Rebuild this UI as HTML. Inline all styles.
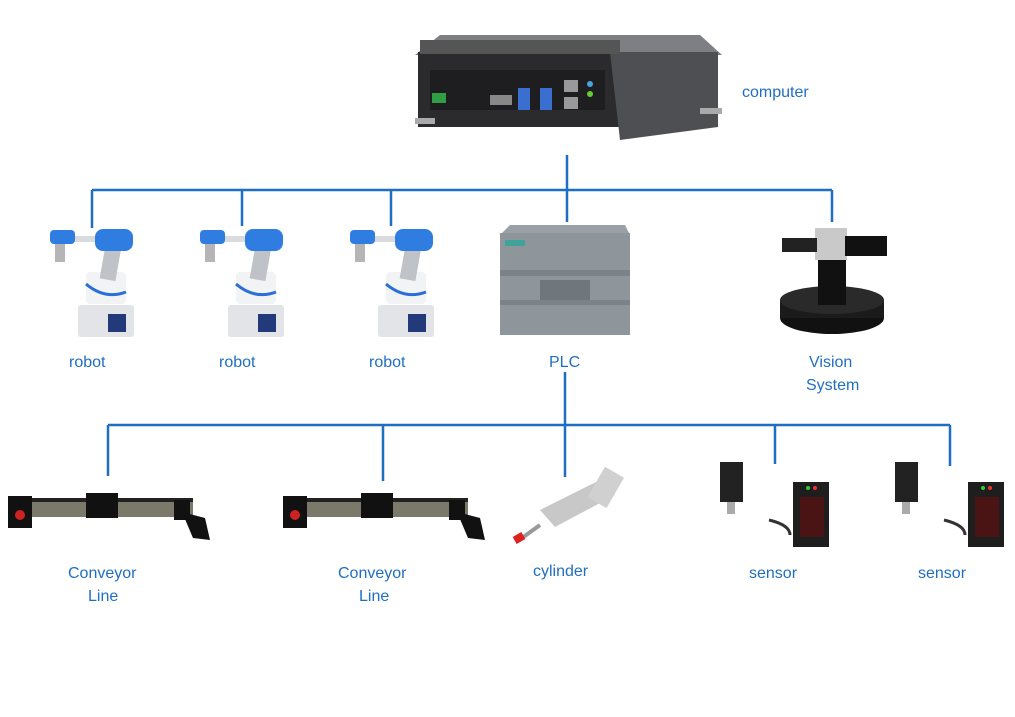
<!DOCTYPE html>
<html><head><meta charset="utf-8"><style>
body{margin:0;background:#fff;width:1015px;height:717px;overflow:hidden;font-family:"Liberation Sans",sans-serif}
svg{display:block}
text{font-family:"Liberation Sans",sans-serif;font-size:16px;fill:#1f6fbf}
</style></head><body>
<svg width="1015" height="717" viewBox="0 0 1015 717">
<g stroke="#1f6fc0" stroke-width="2.5" fill="none">
<path d="M567 155V222M92 190H832M92 190V228M242 190V226M391 190V226M832 190V222"/>
<path d="M565 372V477M108 425H950M108 425V476M383 425V481M775 425V464M950 425V466"/>
</g>
<!-- computer -->
<g>
<polygon points="415,55 440,35 700,35 722,55" fill="#7d7f82"/>
<rect x="418" y="52" width="300" height="75" fill="#2b2b2d"/>
<polygon points="610,52 718,52 718,127 620,140" fill="#4d4f52"/>
<rect x="420" y="40" width="200" height="14" fill="#555" />
<rect x="430" y="70" width="175" height="40" fill="#1e1e20"/>
<rect x="432" y="93" width="14" height="10" fill="#2f9e44"/>
<rect x="518" y="88" width="12" height="22" fill="#3a6fd0"/>
<rect x="540" y="88" width="12" height="22" fill="#3a6fd0"/>
<rect x="490" y="95" width="22" height="10" fill="#888"/>
<rect x="564" y="80" width="14" height="12" fill="#999"/>
<rect x="564" y="97" width="14" height="12" fill="#999"/>
<circle cx="590" cy="84" r="3" fill="#4aa3e0"/><circle cx="590" cy="94" r="3" fill="#6c3"/>
<rect x="415" y="118" width="20" height="6" fill="#aaa"/><rect x="700" y="108" width="22" height="6" fill="#aaa"/>
</g>
<text x="742" y="97">computer</text>
<!-- robots -->
<g id="rb">
<rect x="78" y="305" width="56" height="32" rx="3" fill="#e2e4e7"/>
<rect x="108" y="314" width="18" height="18" fill="#223a7a"/>
<rect x="86" y="272" width="40" height="32" rx="4" fill="#f2f3f5"/>
<path d="M86 284 Q105 300 126 292" stroke="#2a6fd8" stroke-width="3" fill="none"/>
<rect x="103" y="240" width="16" height="40" fill="#bfc2c6" transform="rotate(10 111 260)"/>
<rect x="65" y="236" width="50" height="6" fill="#d9dbde"/>
<rect x="50" y="230" width="25" height="14" rx="4" fill="#2f7de0"/>
<rect x="95" y="229" width="38" height="22" rx="8" fill="#2f7de0"/>
<rect x="55" y="244" width="10" height="18" fill="#b5b5b5"/>
</g>
<use href="#rb" x="150"/><use href="#rb" x="300"/>
<text x="69" y="367">robot</text><text x="219" y="367">robot</text><text x="369" y="367">robot</text>
<!-- PLC -->
<g>
<polygon points="500,235 510,225 625,225 630,235" fill="#9aa1a6"/>
<rect x="500" y="233" width="130" height="102" fill="#8e969c"/>
<rect x="500" y="270" width="130" height="6" fill="#7b8388"/>
<rect x="500" y="300" width="130" height="5" fill="#7b8388"/>
<rect x="540" y="280" width="50" height="20" fill="#6f777c"/>
<rect x="505" y="240" width="20" height="6" fill="#3fa39a"/>
</g>
<text x="549" y="367">PLC</text>
<!-- Vision -->
<g>
<ellipse cx="832" cy="318" rx="52" ry="16" fill="#111"/>
<rect x="780" y="300" width="104" height="18" fill="#1b1b1b"/>
<ellipse cx="832" cy="300" rx="52" ry="14" fill="#2a2a2a"/>
<rect x="818" y="250" width="28" height="55" fill="#111"/>
<rect x="815" y="228" width="32" height="32" fill="#c9c9c9"/>
<rect x="845" y="236" width="42" height="20" fill="#111"/>
<rect x="782" y="238" width="35" height="14" fill="#222"/>
</g>
<text x="809" y="367">Vision</text><text x="806" y="390">System</text>
<!-- conveyors -->
<g id="cv">
<rect x="8" y="501" width="185" height="16" fill="#7b7a6a"/>
<rect x="8" y="498" width="185" height="4" fill="#222"/>
<rect x="8" y="496" width="24" height="32" fill="#111"/>
<circle cx="20" cy="515" r="5" fill="#c22"/>
<rect x="86" y="493" width="32" height="25" fill="#111"/>
<rect x="174" y="500" width="16" height="20" fill="#111"/>
<polygon points="182,512 205,518 210,540 193,538" fill="#111"/>
</g>
<use href="#cv" x="275"/>
<text x="68" y="578">Conveyor</text><text x="88" y="601">Line</text>
<text x="338" y="578">Conveyor</text><text x="359" y="601">Line</text>
<!-- cylinder -->
<g>
<polygon points="540,510 600,480 615,495 555,527" fill="#c8c8c8"/>
<rect x="595" y="470" width="22" height="35" fill="#d0d0d0" transform="rotate(30 606 487)"/>
<line x1="540" y1="525" x2="522" y2="538" stroke="#999" stroke-width="4"/>
<rect x="514" y="534" width="10" height="8" fill="#d22" transform="rotate(-30 519 538)"/>
</g>
<text x="533" y="576">cylinder</text>
<!-- sensors -->
<g id="sn">
<rect x="720" y="462" width="23" height="40" fill="#222"/>
<rect x="727" y="502" width="8" height="12" fill="#aaa"/>
<path d="M769 520 Q790 525 790 535" stroke="#333" stroke-width="3" fill="none"/>
<rect x="793" y="482" width="36" height="65" fill="#1e1e1e"/>
<rect x="800" y="497" width="24" height="40" fill="#4a1414"/>
<circle cx="808" cy="488" r="2" fill="#3c3"/><circle cx="815" cy="488" r="2" fill="#e33"/>
</g>
<use href="#sn" x="175"/>
<text x="749" y="578">sensor</text><text x="918" y="578">sensor</text>
</svg>
</body></html>
